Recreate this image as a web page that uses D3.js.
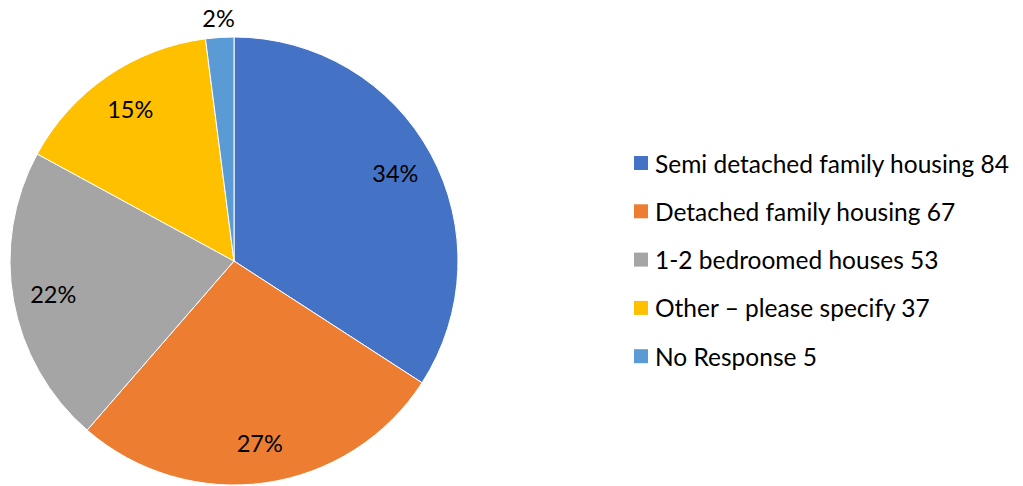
<!DOCTYPE html>
<html>
<head>
<meta charset="utf-8">
<script src="https://cdn.jsdelivr.net/npm/d3@7"></script>
<style>
  html, body { margin: 0; padding: 0; background: #fff; }
  svg { display: block; }
  text { font-family: Lato, "Open Sans", sans-serif; fill: #000; }
</style>
</head>
<body>
<svg id="chart" width="1023" height="486"></svg>
<script>
// Housing type preferences (count of responses)
const categories = [
  "Semi detached family housing",
  "Detached family housing",
  "1-2 bedroomed houses",
  "Other \u2013 please specify",
  "No Response"
];
const counts = [84, 67, 53, 37, 5];
const colors = ["#4472C4", "#ED7D31", "#A5A5A5", "#FFC000", "#5B9BD5"];

const data = categories.map((c, i) => ({ name: c, value: counts[i], color: colors[i] }));
const total = d3.sum(counts);

const svg = d3.select("#chart");
const cx = 234, cy = 261, r = 224;

const pie = d3.pie().value(d => d.value).sort(null);
const arcs = pie(data);
const arc = d3.arc().innerRadius(0).outerRadius(r);

const g = svg.append("g").attr("transform", `translate(${cx},${cy})`);

g.selectAll("path.slice")
  .data(arcs)
  .join("path")
  .attr("class", "slice")
  .attr("d", arc)
  .attr("fill", d => d.data.color)
  .attr("stroke", "#fff")
  .attr("stroke-width", 1);

// Percentage labels: inside the slice, or just outside for tiny slices
const inside = d3.arc().innerRadius(r * 0.82).outerRadius(r * 0.82);
const outside = d3.arc().innerRadius(r * 1.085).outerRadius(r * 1.085);
g.selectAll("text.pct")
  .data(arcs)
  .join("text")
  .attr("class", "pct")
  .attr("transform", d => {
    const frac = d.data.value / total;
    const p = (frac < 0.05 ? outside : inside).centroid(d);
    return `translate(${p[0]},${p[1]})`;
  })
  .attr("text-anchor", "middle")
  .attr("dominant-baseline", "central")
  .attr("font-size", 23.5)
  .text(d => Math.round(d.data.value / total * 100) + "%");

// Legend
const legend = svg.append("g").attr("transform", "translate(634,163)");
const rowH = 48.3;
const item = legend.selectAll("g.item")
  .data(data)
  .join("g")
  .attr("class", "item")
  .attr("transform", (d, i) => `translate(0,${i * rowH})`);

item.append("rect")
  .attr("x", 0).attr("y", -7)
  .attr("width", 14).attr("height", 14)
  .attr("fill", d => d.color);

item.append("text")
  .attr("x", 21).attr("y", 0)
  .attr("dominant-baseline", "central")
  .attr("font-size", 24.5)
  .text(d => `${d.name} ${d.value}`);
</script>
</body>
</html>
